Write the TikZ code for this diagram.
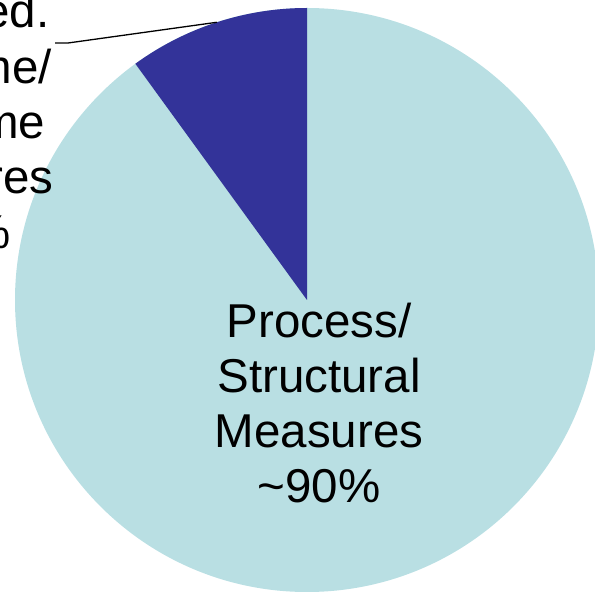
\documentclass[tikz,border=0pt]{standalone}
\usepackage{fontspec}
\setmainfont{Liberation Sans}
\usepackage{xcolor}
\usetikzlibrary{calc}
\definecolor{procblue}{HTML}{B9DFE3}
\definecolor{outcblue}{HTML}{333399}

\begin{document}
\begin{tikzpicture}[
            x = 1pt, y = -1pt, % pixel-like units, y downwards
            lbl/.style = {align=center, inner sep=0pt,
                          font=\fontsize{47.5}{55.3}\selectfont}, % label text
            semithick % line style
        ]
\useasboundingbox (0,0) rectangle (595,593);
\coordinate (C) at (307,300);
% slices (angles mirrored because y points down)
\fill[procblue] (C) circle[radius=292];
\fill[outcblue] (C) -- +(-90:292) arc[start angle=-90, end angle=-126, radius=292] -- cycle;

\node[lbl, anchor=base] (P) at (319,503) {Process/\\Structural\\Measures\\\textasciitilde 90\%};
\node[lbl, anchor=base] (O) at (-51,249) {Intermed.\\Outcome/\\Outcome\\Measures\\\textasciitilde 10\%};

\coordinate (start) at (55,43);
\coordinate (elbow) at (68,43);
\coordinate (tip) at ($(C)+(-108:292)$);
\draw[line width=1.3pt] (start) -- (elbow) -- (tip);
\end{tikzpicture}
\end{document}
